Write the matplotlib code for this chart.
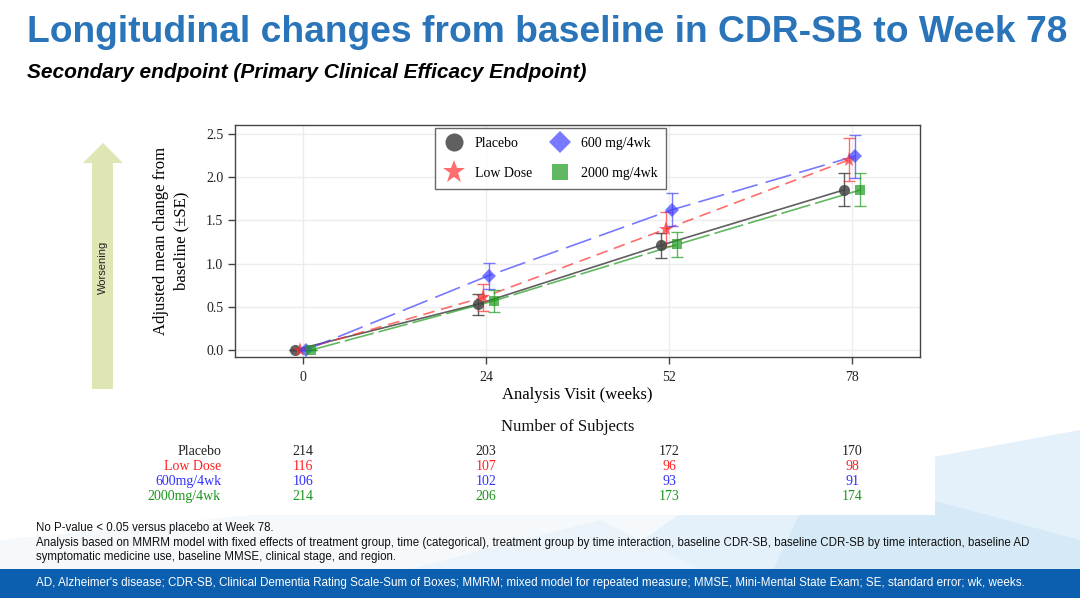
import matplotlib
matplotlib.use("Agg")
import matplotlib.pyplot as plt
import matplotlib.transforms as mtransforms
from matplotlib.patches import Polygon, Rectangle
import numpy as np

# ---------------- data ----------------
visits = ["0", "24", "52", "78"]
groups = ["Placebo", "Low Dose", "600 mg/4wk", "2000 mg/4wk"]
table_labels = ["Placebo", "Low Dose", "600mg/4wk", "2000mg/4wk"]

placebo_mean = [0.0, 0.53, 1.21, 1.85]
placebo_se = [0.0, 0.12, 0.145, 0.19]
low_mean = [0.0, 0.61, 1.40, 2.20]
low_se = [0.0, 0.155, 0.20, 0.245]
mid_mean = [0.0, 0.86, 1.62, 2.24]
mid_se = [0.0, 0.15, 0.19, 0.25]
high_mean = [0.0, 0.57, 1.22, 1.85]
high_se = [0.0, 0.125, 0.145, 0.19]

n_placebo = [214, 203, 172, 170]
n_low = [116, 107, 96, 98]
n_mid = [106, 102, 93, 91]
n_high = [214, 206, 173, 174]

yticks = [0.0, 0.5, 1.0, 1.5, 2.0, 2.5]

# ---------------- styles ----------------
W, H = 1080, 598
fig = plt.figure(figsize=(W / 100, H / 100), dpi=100)

def fx(px):
    return px / W

def fy(py):
    return 1 - py / H

serif = "Liberation Serif"
sans = "Liberation Sans"

# background decorations (light blue shapes bottom right)
bg = fig.add_axes([0, 0, 1, 1], zorder=-10)
bg.set_xlim(0, W)
bg.set_ylim(H, 0)
bg.axis("off")
bg.add_patch(Polygon([[0, 598], [0, 540], [400, 500], [1080, 470], [1080, 598]],
                     closed=True, fc="#f5f9fc", ec="none"))
bg.add_patch(Polygon([[560, 598], [700, 500], [1080, 430], [1080, 598]],
                     closed=True, fc="#e4f1fa", ec="none"))
bg.add_patch(Polygon([[760, 598], [820, 470], [1080, 540], [1080, 598]],
                     closed=True, fc="#d5eaf6", ec="none"))
bg.add_patch(Polygon([[300, 598], [600, 520], [760, 598]],
                     closed=True, fc="#eaf4fa", ec="none"))
# white chart panel
bg.add_patch(Rectangle((0, 95), 935, 420, fc="white", ec="none"))
# footer band
bg.add_patch(Rectangle((0, 569), W, 29, fc="#0b5fae", ec="none"))

# arrow
bg.add_patch(Polygon([[92, 389], [92, 163], [83, 163], [103, 143], [123, 163],
                      [113, 163], [113, 389]], closed=True, fc="#dfe6b4", ec="none"))
bg.text(103, 267, "Worsening", rotation=90, ha="center", va="center",
        fontsize=8, family=sans, color="#222222")

# titles
fig.text(fx(27), fy(33), "Longitudinal changes from baseline in CDR-SB to Week 78",
         fontsize=26.8, fontweight="bold", family=sans, color="#2a74ba",
         ha="left", va="center")
fig.text(fx(27), fy(73), "Secondary endpoint (Primary Clinical Efficacy Endpoint)",
         fontsize=15, fontweight="bold", fontstyle="italic", family=sans,
         color="black", ha="left", va="center")

# ---------------- main axes ----------------
ax = fig.add_axes([fx(235), fy(357), fx(920 - 235), (357 - 125) / H])
x = np.arange(len(visits))
series = [
    (placebo_mean, placebo_se, "#444444", "o", "-", 8, -0.045, 0.85),
    (low_mean, low_se, "#ff3030", "*", (0, (7, 4)), 11, -0.015, 0.7),
    (mid_mean, mid_se, "#4040ff", "D", (0, (16, 5)), 7, 0.015, 0.7),
    (high_mean, high_se, "#1f9a1f", "s", (0, (18, 3)), 7, 0.045, 0.7),
]
handles = []
for (m, se, c, mk, ls, ms, off, a), name in zip(series, groups):
    xs = x + off
    ax.errorbar(xs, m, yerr=se, fmt="none", ecolor=c, elinewidth=1.0,
                capsize=4, capthick=1.0, alpha=a, zorder=3)
    ax.plot(xs, m, color=c, linestyle=ls, linewidth=1.2, alpha=a, zorder=3)
    ax.plot(xs, m, linestyle="none", marker=mk, markersize=ms, color=c,
            alpha=a, markeredgewidth=0, zorder=4)
    h, = ax.plot([], [], linestyle="none", marker=mk, color=c, alpha=a,
                 markeredgewidth=0, markersize={"o": 13, "*": 17, "D": 11, "s": 12}[mk])
    handles.append(h)

ax.set_xlim(-0.37, 3.37)
ax.set_ylim(-0.08, 2.6)
ax.set_xticks(x)
ax.set_xticklabels(visits)
ax.set_yticks(yticks)
ax.set_yticklabels([f"{v:.1f}" for v in yticks])
ax.grid(True, color="#ececec", linewidth=1.0, zorder=0)
ax.set_axisbelow(True)
for s in ax.spines.values():
    s.set_color("#444444")
    s.set_linewidth(1.0)
ax.tick_params(colors="#444444", labelsize=10, length=5, width=1)
for lbl in ax.get_xticklabels() + ax.get_yticklabels():
    lbl.set_family(serif)
    lbl.set_color("#222222")
ax.tick_params(axis="x", pad=5)

ax.set_xlabel("Analysis Visit (weeks)", family=serif, fontsize=12, labelpad=2)
ax.set_ylabel("Adjusted mean change from\nbaseline (\u00b1SE)", family=serif,
              fontsize=12, labelpad=12, linespacing=1.35)

leg = ax.legend(handles, groups,
                ncol=2, loc="upper center", bbox_to_anchor=(0.46, 0.985),
                borderaxespad=0.0,
                frameon=True, fancybox=False, prop={"family": serif, "size": 10},
                handletextpad=0.7, columnspacing=1.2, borderpad=0.6,
                labelspacing=1.25, handlelength=1.6)
leg.get_frame().set_edgecolor("#444444")
leg.get_frame().set_linewidth(1.0)

# ---------------- number of subjects table ----------------
fig.text(fx(568), fy(427), "Number of Subjects", family=serif, fontsize=12,
         ha="center", va="center", color="#111111")
trans = mtransforms.blended_transform_factory(ax.transData, fig.transFigure)
row_colors = ["#222222", "#ff2020", "#3030ff", "#1a941a"]
row_vals = [n_placebo, n_low, n_mid, n_high]
row_y = [455, 470, 485, 500]  # baselines
for lbl, col, vals, yy in zip(table_labels, row_colors, row_vals, row_y):
    fig.text(fx(221), fy(yy), lbl, family=serif, fontsize=10, color=col,
             ha="right", va="baseline")
    for xi, v in zip(x, vals):
        fig.text(xi, fy(yy), str(v), family=serif, fontsize=10, color=col,
                 ha="center", va="baseline", transform=trans)

# ---------------- footnotes ----------------
notes = [
    "No P-value < 0.05 versus placebo at Week 78.",
    "Analysis based on MMRM model with fixed effects of treatment group, time (categorical), treatment group by time interaction, baseline CDR-SB, baseline CDR-SB by time interaction, baseline AD",
    "symptomatic medicine use, baseline MMSE, clinical stage, and region.",
]
for t, yy in zip(notes, [528, 543, 557]):
    fig.text(fx(36), fy(yy), t, family=sans, fontsize=8.3, color="#111111",
             ha="left", va="center")
fig.text(fx(36), fy(583),
         "AD, Alzheimer's disease; CDR-SB, Clinical Dementia Rating Scale-Sum of Boxes; MMRM; mixed model for repeated measure; MMSE, Mini-Mental State Exam; SE, standard error; wk, weeks.",
         family=sans, fontsize=8.4, color="white", ha="left", va="center")

fig.savefig("out.png", dpi=100)
